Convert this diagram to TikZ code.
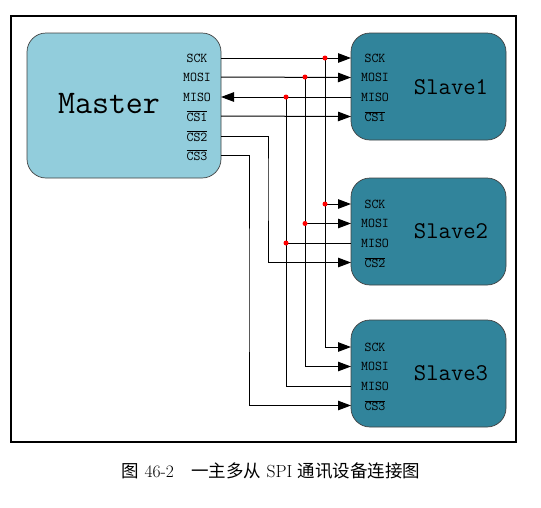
\documentclass[tikz,border=0pt]{standalone}
\usepackage{fontspec}
\newfontfamily\cjk{Noto Sans CJK SC}
\usetikzlibrary{arrows.meta}
\definecolor{masterblue}{HTML}{92CDDC}
\definecolor{slaveblue}{HTML}{31849B}
\definecolor{edgegray}{HTML}{404040}
\tikzset{
  box/.style={draw=edgegray, line width=0.7pt, rounded corners=19pt, inner sep=0pt},
  masterbox/.style={box, fill=masterblue, minimum width=194pt, minimum height=145pt},
  slavebox/.style={box, fill=slaveblue, minimum width=155pt, minimum height=107pt},
  pin/.style={font=\fontsize{13.5}{13.5}\selectfont\ttfamily, inner sep=0pt, anchor=center},
  wire/.style={line width=1pt, draw=black},
  arr/.style={wire, -{Triangle[length=13pt,width=9.5pt]}},
  dot/.style={circle, fill=red, inner sep=0pt, minimum size=5pt},
}
\newcommand{\ovl}[1]{$\overline{\mbox{\ttfamily #1}}$}
\begin{document}
\begin{tikzpicture}[x=1pt,y=-1pt]
\useasboundingbox (0,0) rectangle (541,507);
\draw[line width=1.6pt] (11,16) rectangle (516,442);

% boxes
\node[masterbox] (M) at (124,105.5) {};
\node[slavebox] (S1) at (428.5,86.5) {};
\node[slavebox] (S2) at (428.5,231.5) {};
\node[slavebox] (S3) at (428.5,373.5) {};

\node[font=\fontsize{33}{33}\selectfont\ttfamily] (Mt) at (109,104) {Master};
\node[font=\fontsize{24}{24}\selectfont\ttfamily] (S1t) at (451,87) {Slave1};
\node[font=\fontsize{24}{24}\selectfont\ttfamily] (S2t) at (451,231) {Slave2};
\node[font=\fontsize{24}{24}\selectfont\ttfamily] (S3t) at (451,373) {Slave3};

% master pin labels
\node[pin] (mlsck) at (197,58) {SCK};
\node[pin] (mlmosi) at (197,77) {MOSI};
\node[pin] (mlmiso) at (197,97) {MISO};
\node[pin] (mlcs1) at (197,116) {\ovl{CS1}};
\node[pin] (mlcs2) at (197,136) {\ovl{CS2}};
\node[pin] (mlcs3) at (197,155) {\ovl{CS3}};
% slave pin labels
\foreach \s/\y/\c in {1/58/CS1, 2/204/CS2, 3/347/CS3}{
  \node[pin] (s\s lsck) at (375,\y) {SCK};
  \node[pin] (s\s lmosi) at (375,\y+19.5) {MOSI};
  \node[pin] (s\s lmiso) at (375,\y+39) {MISO};
  \node[pin] (s\s lcs) at (375,\y+58.5) {\ovl{\c}};
}

% pin coordinates on master edge
\coordinate (msck) at (221,58);
\coordinate (mmosi) at (221,77);
\coordinate (mmiso) at (221,97);
\coordinate (mcs1) at (221,116);
\coordinate (mcs2) at (221,136);
\coordinate (mcs3) at (221,155);
% slave edges
\foreach \s/\y in {1/58, 2/204, 3/347}{
  \coordinate (s\s sck) at (351,\y);
  \coordinate (s\s mosi) at (351,\y+19.5);
  \coordinate (s\s miso) at (351,\y+39);
  \coordinate (s\s cs) at (351,\y+58.5);
}
% bus junctions
\coordinate (jsck1) at (325,58);
\coordinate (jsck2) at (325,204);
\coordinate (jsck3) at (325,347);
\coordinate (jmosi1) at (305,77);
\coordinate (jmosi2) at (305,223.5);
\coordinate (jmosi3) at (305,366.5);
\coordinate (jmiso1) at (286,97);
\coordinate (jmiso2) at (286,243);
\coordinate (jmiso3) at (286,386);

% SCK
\draw[arr] (msck) -- (s1sck);
\draw[wire] (jsck1) -- (jsck3);
\draw[arr] (jsck2) -- (s2sck);
\draw[arr] (jsck3) -- (s3sck);
% MOSI
\draw[arr] (mmosi) -- (s1mosi);
\draw[wire] (jmosi1) -- (jmosi3);
\draw[arr] (jmosi2) -- (s2mosi);
\draw[arr] (jmosi3) -- (s3mosi);
% MISO
\draw[arr] (s1miso) -- (mmiso);
\draw[wire] (jmiso1) -- (jmiso3);
\draw[wire] (jmiso2) -- (s2miso);
\draw[wire] (jmiso3) -- (s3miso);
% CS
\draw[arr] (mcs1) -- (s1cs);
\draw[arr] (mcs2) -| (268,180) |- (s2cs);
\draw[arr] (mcs3) -| (249,300) |- (s3cs);

% dots
\foreach \p in {jsck1,jsck2,jmosi1,jmosi2,jmiso1,jmiso2}{
  \node[dot] at (\p) {};
}

% caption
\node[font=\fontsize{17.5}{17.5}\selectfont] (cap) at (271,471)
  {{\cjk 图}\ 46-2\quad{\cjk 一主多从}\ SPI\ {\cjk 通讯设备连接图}};
\end{tikzpicture}
\end{document}
